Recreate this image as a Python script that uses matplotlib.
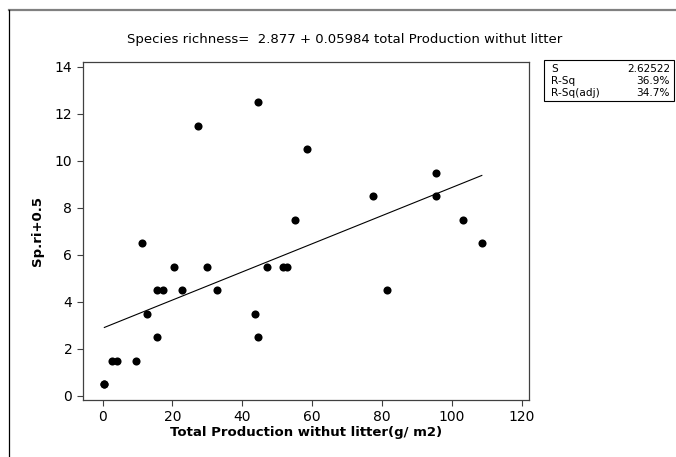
import matplotlib
matplotlib.use("Agg")
import matplotlib.pyplot as plt
from matplotlib.lines import Line2D
from matplotlib.patches import Rectangle

plt.rcParams['font.family'] = ['DejaVu Sans']

# total production without litter (g/m2) and species richness + 0.5
production = [0.5, 0.5, 2.6, 4.0, 9.6, 11.4, 12.8, 15.5, 17.2, 15.5, 20.4, 22.6,
              27.3, 30.0, 32.7, 43.6, 44.6, 44.6, 47.0, 51.6, 52.9, 55.1, 58.5,
              77.4, 81.5, 95.4, 95.4, 103.2, 108.6]
richness = [0.5, 0.5, 1.5, 1.5, 1.5, 6.5, 3.5, 4.5, 4.5, 2.5, 5.5, 4.5,
            11.5, 5.5, 4.5, 3.5, 12.5, 2.5, 5.5, 5.5, 5.5, 7.5, 10.5,
            8.5, 4.5, 9.5, 8.5, 7.5, 6.5]

intercept = 2.877
slope = 0.05984
stat_names = ["S", "R-Sq", "R-Sq(adj)"]
stat_values = ["2.62522", "36.9%", "34.7%"]

W, H = 676, 457
fig = plt.figure(figsize=(W / 100, H / 100), dpi=100)
ax = fig.add_axes([82.7 / W, 1 - 400 / H, (529.3 - 82.7) / W, (400 - 62.3) / H])

ax.scatter(production, richness, s=34, color="black", zorder=3, linewidths=0)
xs = [min(production), max(production)]
ax.plot(xs, [intercept + slope * x for x in xs], color="black", lw=0.8)

ax.set_xlim(-5.7, 122.2)
ax.set_ylim(-0.18, 14.19)
ax.set_xticks(range(0, 121, 20))
ax.set_yticks(range(0, 15, 2))
ax.tick_params(direction="out", length=4, width=0.8, labelsize=10, color="#404040")
for sp in ax.spines.values():
    sp.set_color("#404040")
    sp.set_linewidth(0.9)

ax.set_xlabel("Total Production withut litter(g/ m2)", fontsize=9.5,
              fontweight="bold", labelpad=1)
ax.set_ylabel("Sp.ri+0.5", fontsize=9.5, fontweight="bold", labelpad=8)

fig.text(345 / W, 1 - 40 / H,
         "Species richness=  2.877 + 0.05984 total Production withut litter",
         ha="center", va="center", fontsize=9.5)

# outer frame (only top and left edges visible)
fig.add_artist(Line2D([9 / W, 1], [1 - 10 / H, 1 - 10 / H], color="#808080", lw=1.6))
fig.add_artist(Line2D([9 / W, 9 / W], [0, 1 - 10 / H], color="black", lw=0.9))

# statistics box
fig.add_artist(Rectangle((544 / W, 1 - 101 / H), 130 / W, 41 / H, fill=False,
                         edgecolor="black", lw=0.8, transform=fig.transFigure))
for i, (n, v) in enumerate(zip(stat_names, stat_values)):
    yy = 1 - (69 + 12 * i) / H
    fig.text(551 / W, yy, n, ha="left", va="center", fontsize=7.6)
    fig.text(670 / W, yy, v, ha="right", va="center", fontsize=7.6)

fig.savefig("out.png", dpi=100)
